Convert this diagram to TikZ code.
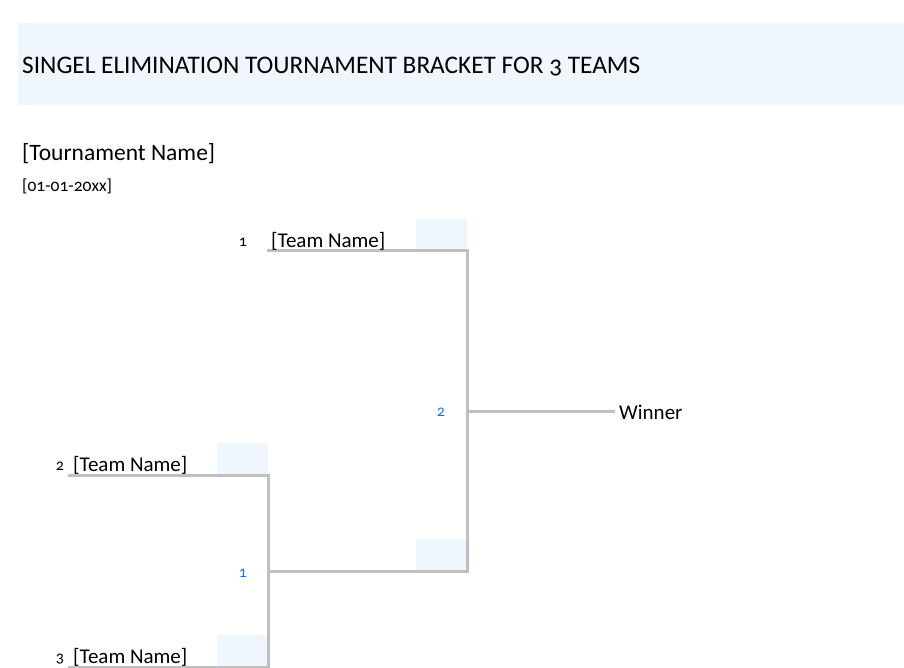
\documentclass[tikz,border=0pt]{standalone}
\usepackage{fontspec}
\setmainfont{Carlito}[Numbers=OldStyle]
\usetikzlibrary{positioning}
\definecolor{band}{RGB}{239,246,254}
\definecolor{bracket}{RGB}{191,191,191}
\definecolor{seed}{RGB}{31,111,230}

\begin{document}
\begin{tikzpicture}[x=1pt, y=-1pt,
        heading/.style={anchor=base west, inner sep=0pt, font=\fontsize{#1}{#1}\selectfont},
        team/.style={anchor=base west, inner sep=0pt, font=\fontsize{21}{24}\selectfont},
        seednum/.style={anchor=base, inner sep=0pt, font=\fontsize{16}{18}\selectfont},
        game/.style={seednum, text=seed},
        slot/.style={fill=band, minimum width=51pt, minimum height=32pt, inner sep=0pt, anchor=south east},
        line/.style={draw=bracket, line width=3pt}
    ]
        \useasboundingbox (0,0) rectangle (904,668);

        % header band and titles
        \node (band) [fill=band, minimum width=886pt, minimum height=82pt, inner sep=0pt, anchor=north west] at (18,23) {};
        \node (title) [heading=25.3] at (22,73.5) {SINGEL ELIMINATION TOURNAMENT BRACKET FOR 3 TEAMS};
        \node (tname) [heading=23.5] at (22,161) {[Tournament Name]};
        \node (tdate) [heading=17.5] at (22,191.5) {[01-01-20xx]};

        % bracket points
        \coordinate (t1) at (267,251);
        \coordinate (t2) at (68,475);
        \coordinate (t3) at (68,667);
        \coordinate (g1) at (268,571);
        \coordinate (g2) at (467,411);
        \coordinate (win) at (615,411);

        % score slots
        \node (s1) [slot] at (467,251) {};
        \node (s2) [slot] at (268,475) {};
        \node (s3) [slot] at (268,667) {};
        \node (s4) [slot] at (467,571) {};

        \draw[line] (t2) -| (g1) |- (t3);
        \draw[line] (t1) -| (g2) |- (g1);
        \draw[line] (g2) -- (win);

        % teams
        \node (n1) [seednum] at (243,246.5) {1};
        \node (team1) [team] at (271,247.5) {[Team Name]};
        \node (n2) [seednum] at (60,470.5) {2};
        \node (team2) [team] at (73,471.5) {[Team Name]};
        \node (n3) [seednum] at (60,662.5) {3};
        \node (team3) [team] at (73,663.5) {[Team Name]};

        % games
        \node (m1) [game] at (243,577) {1};
        \node (m2) [game] at (441,416) {2};
        \node (winner) [team, anchor=west] at (619,412) {Winner};
    \end{tikzpicture}
\end{document}
